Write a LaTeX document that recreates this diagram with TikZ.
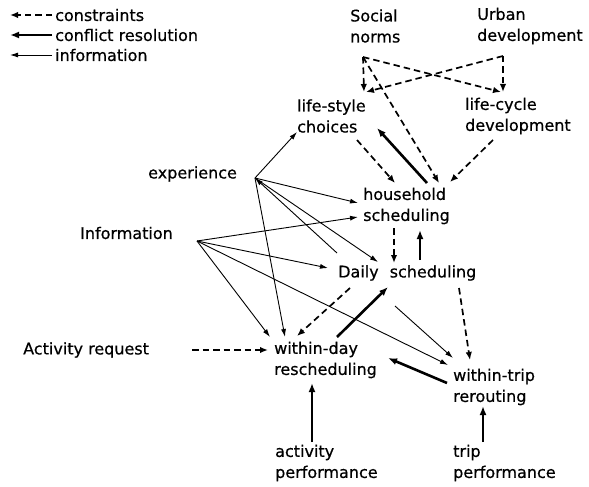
\documentclass[tikz,border=0pt]{standalone}
\usepackage{fontspec}
\setmainfont[FakeBold=0.6]{DejaVu Sans}
\usetikzlibrary{arrows.meta}
\begin{document}
\begin{tikzpicture}[x=1pt,y=-1pt,
  lbl/.style={anchor=west,inner sep=0pt,align=left,font=\fontsize{16}{21}\selectfont},
  constraint/.style={line width=1.7pt,dash pattern=on 6.5pt off 4pt,-{Latex[length=8pt,width=6.5pt]}},
  conflict/.style={line width=2.6pt,-{Latex[length=9pt,width=7pt]}},
  info/.style={line width=0.9pt,-{Latex[length=8pt,width=5pt]}},
]
\useasboundingbox (0,0) rectangle (589,487);

% legend
\node[lbl] (legC) at (55,15) {constraints};
\node[lbl] (legR) at (55,35) {conflict resolution};
\node[lbl] (legI) at (55,55) {information};
\draw[constraint] ([xshift=-3pt]legC.west) -- ++(-42,0);
\draw[conflict]   ([xshift=-3pt]legR.west) -- ++(-42,0);
\draw[info]       ([xshift=-3pt]legI.west) -- ++(-42,0);

% nodes
\node[lbl] (soc) at (350,26)  {Social\\norms};
\node[lbl] (urb) at (477,26)  {Urban\\development};
\node[lbl] (ls)  at (297,116) {life-style\\choices};
\node[lbl] (lc)  at (465,116) {life-cycle\\development};
\node[lbl] (exp) at (148,174) {experience};
\node[lbl] (hh)  at (363,206) {household\\scheduling};
\node[lbl] (inf) at (80,233)  {Information};
\node[lbl] (ds)  at (338,273) {Daily\hspace{11pt}scheduling};
\node[lbl] (ar)  at (23,350)  {Activity request};
\node[lbl] (wd)  at (274,360) {within-day\\rescheduling};
\node[lbl] (wt)  at (453,387) {within-trip\\rerouting};
\node[lbl] (ap)  at (275,463) {activity\\performance};
\node[lbl] (tp)  at (453,463) {trip\\performance};

% fan-out points
\coordinate (socC) at ([shift={(13,31)}]soc.west);
\coordinate (urbC) at ([shift={(26,30)}]urb.west);
\coordinate (expH) at ([shift={(107,4)}]exp.west);
\coordinate (infH) at ([shift={(117,8)}]inf.west);

% constraints
\draw[constraint] (socC) -- ([shift={(67,-24)}]ls.west);
\draw[constraint] (urbC) -- ([shift={(69,-24)}]ls.west);
\draw[constraint] (socC) -- ([shift={(36,-24)}]lc.west);
\draw[constraint] (urbC) -- ([shift={(38,-24)}]lc.west);
\draw[constraint] (socC) -- ([shift={(76,-23)}]hh.west);
\draw[constraint] ([shift={(60,24)}]ls.west) -- ([shift={(32,-23)}]hh.west);
\draw[constraint] ([shift={(28,24)}]lc.west) -- ([shift={(87,-24)}]hh.west);
\draw[constraint] ([shift={(31,22)}]hh.west) -- ([shift={(56,-10)}]ds.west);
\draw[constraint] ([shift={(12,15)}]ds.west) -- ([shift={(23,-24)}]wd.west);
\draw[constraint] ([shift={(121,15)}]ds.west) -- ([shift={(17,-27)}]wt.west);
\draw[constraint] ([shift={(169,0)}]ar.west) -- ([shift={(-6,-10)}]wd.west);

% conflict resolution
\draw[conflict] ([shift={(64,-23)}]hh.west) -- ([shift={(80,12)}]ls.west);
\draw[conflict] ([shift={(82,-13)}]ds.west) -- ([shift={(57,24)}]hh.west);
\draw[conflict] ([shift={(63,-23)}]wd.west) -- ([shift={(50,14)}]ds.west);
\draw[conflict] ([shift={(-6,-4)}]wt.west) -- ([shift={(114,-2)}]wd.west);
\draw[conflict] ([shift={(37,-21)}]ap.west) -- ([shift={(38,23)}]wd.west);
\draw[conflict] ([shift={(30,-21)}]tp.west) -- ([shift={(30,19)}]wt.west);

% information
\draw[info] (expH) -- ([shift={(0,16)}]ls.west);
\draw[info] (expH) -- ([shift={(-5,-3)}]hh.west);
\draw[info] (expH) -- ([shift={(40,-11)}]ds.west);
\draw[info] ([shift={(-1,-20)}]ds.west) -- (expH);
\draw[info] (expH) -- ([shift={(11,-23)}]wd.west);
\draw[info] (infH) -- ([shift={(-5,11)}]hh.west);
\draw[info] (infH) -- ([shift={(-10,-5)}]ds.west);
\draw[info] (infH) -- ([shift={(-4,-23)}]wd.west);
\draw[info] (infH) -- ([shift={(-5,-22)}]wt.west);
\draw[info] ([shift={(57,33)}]ds.west) -- ([shift={(0,-29)}]wt.west);
\end{tikzpicture}
\end{document}
